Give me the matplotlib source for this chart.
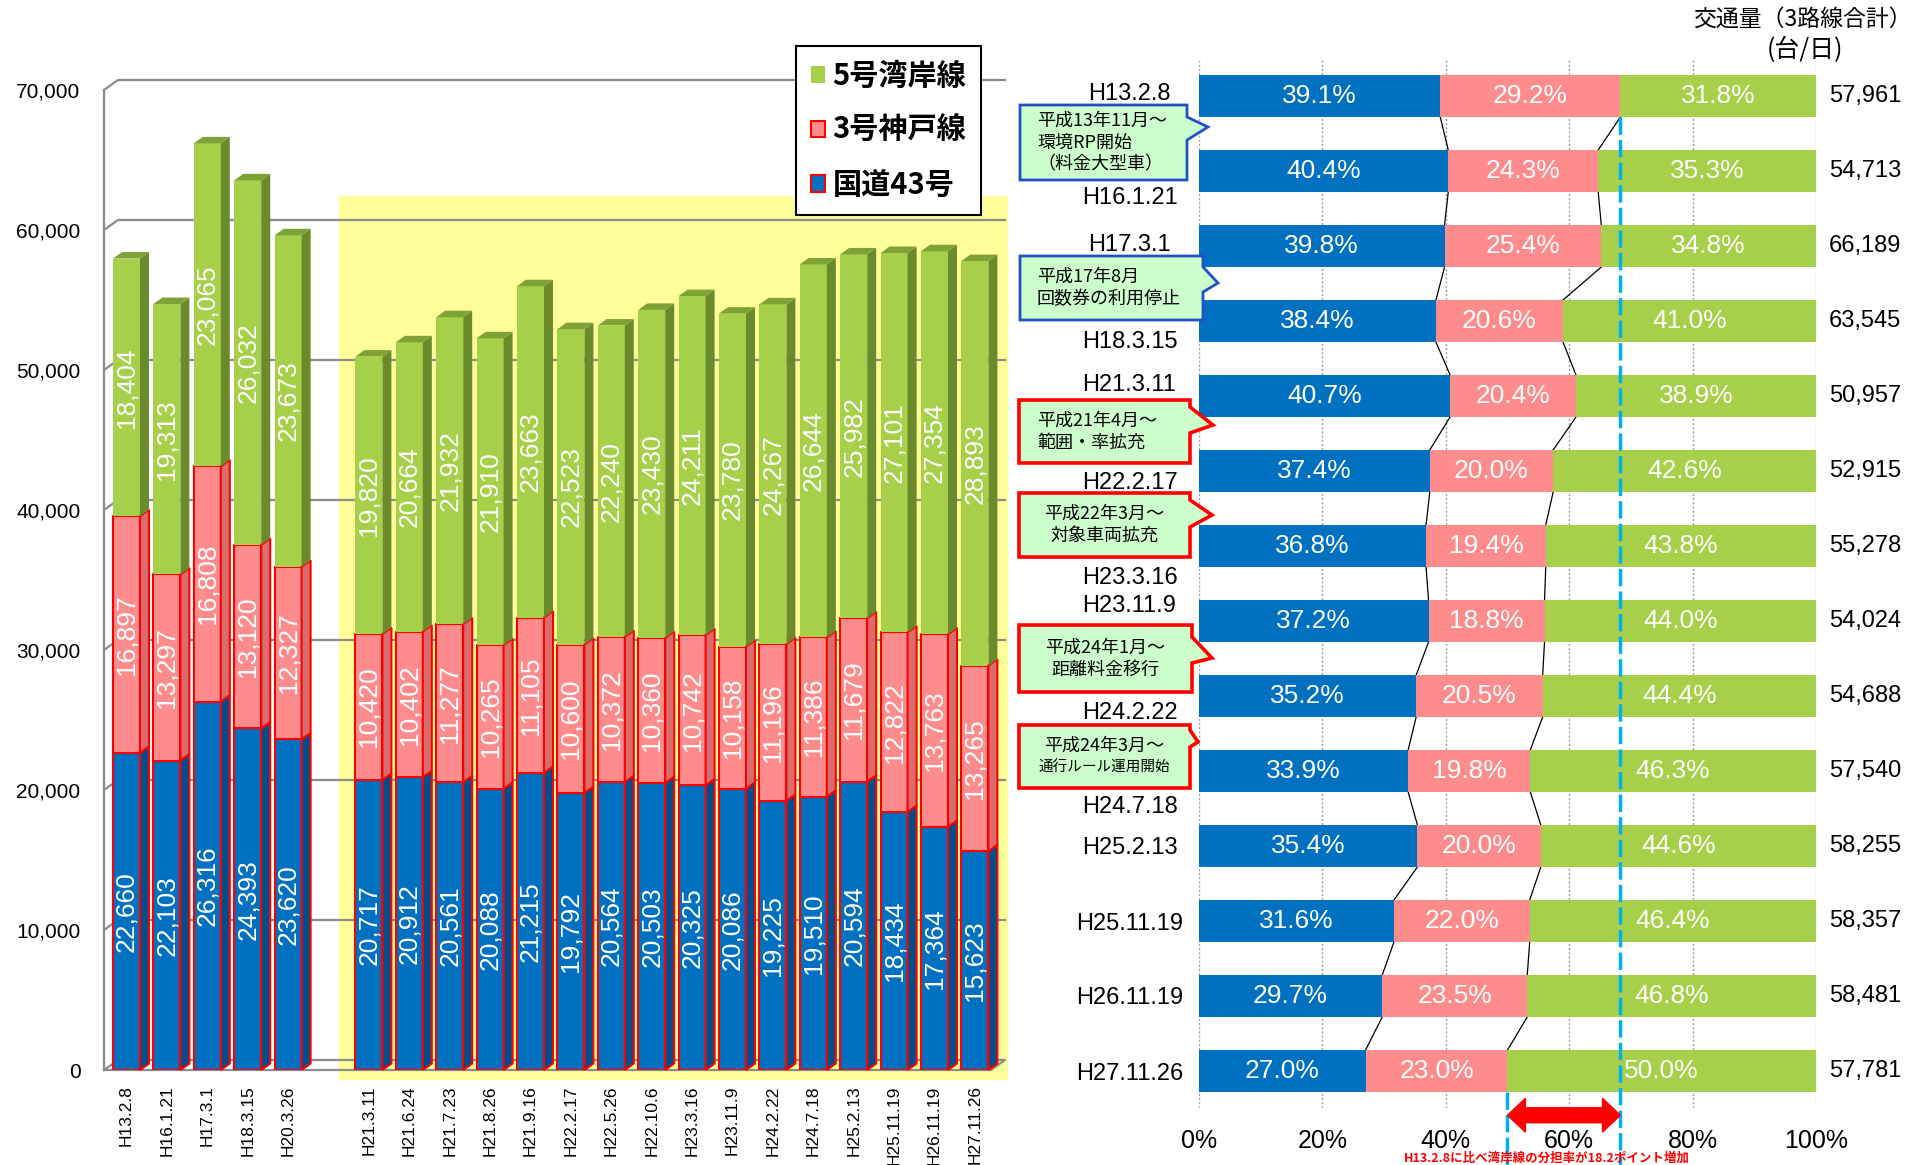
import numpy as np
import matplotlib.pyplot as plt
from matplotlib.patches import Polygon, Rectangle, FancyArrow

plt.rcParams['font.family'] = ['Liberation Sans', 'Noto Sans CJK JP']
JP = ['Noto Sans CJK JP', 'DejaVu Sans']

W, H = 1915, 1165

# ---- left chart: daily traffic by route (台/日)
dates = ['H13.2.8', 'H16.1.21', 'H17.3.1', 'H18.3.15', 'H20.3.26',
         'H21.3.11', 'H21.6.24', 'H21.7.23', 'H21.8.26', 'H21.9.16', 'H22.2.17',
         'H22.5.26', 'H22.10.6', 'H23.3.16', 'H23.11.9', 'H24.2.22', 'H24.7.18',
         'H25.2.13', 'H25.11.19', 'H26.11.19', 'H27.11.26']
route43 = [22660, 22103, 26316, 24393, 23620,
           20717, 20912, 20561, 20088, 21215, 19792, 20564, 20503, 20325, 20086,
           19225, 19510, 20594, 18434, 17364, 15623]
kobe3 = [16897, 13297, 16808, 13120, 12327,
         10420, 10402, 11277, 10265, 11105, 10600, 10372, 10360, 10742, 10158,
         11196, 11386, 11679, 12822, 13763, 13265]
wangan5 = [18404, 19313, 23065, 26032, 23673,
           19820, 20664, 21932, 21910, 23663, 22523, 22240, 23430, 24211, 23780,
           24267, 26644, 25982, 27101, 27354, 28893]
names = ['国道43号', '3号神戸線', '5号湾岸線']
n_first = 5  # bars before the gap

# ---- right chart: share of each route (%)
share_dates = ['H13.2.8', 'H16.1.21', 'H17.3.1', 'H18.3.15', 'H21.3.11', 'H22.2.17',
               'H23.3.16', 'H23.11.9', 'H24.2.22', 'H24.7.18', 'H25.2.13',
               'H25.11.19', 'H26.11.19', 'H27.11.26']
share43 = [39.1, 40.4, 39.8, 38.4, 40.7, 37.4, 36.8, 37.2, 35.2, 33.9, 35.4, 31.6, 29.7, 27.0]
share3 = [29.2, 24.3, 25.4, 20.6, 20.4, 20.0, 19.4, 18.8, 20.5, 19.8, 20.0, 22.0, 23.5, 23.0]
share5 = [31.8, 35.3, 34.8, 41.0, 38.9, 42.6, 43.8, 44.0, 44.4, 46.3, 44.6, 46.4, 46.8, 50.0]
share_total = [57961, 54713, 66189, 63545, 50957, 52915, 55278, 54024, 54688,
               57540, 58255, 58357, 58481, 57781]

notes = ['平成13年11月～\n環境RP開始\n（料金大型車）',
         '平成17年8月\n回数券の利用停止',
         '平成21年4月～\n範囲・率拡充',
         '平成22年3月～\n対象車両拡充',
         '平成24年1月～\n距離料金移行',
         '平成24年3月～\n通行ルール運用開始']

BLUE, BLUE_S = '#0070C0', '#004F8C'
PINK, PINK_S = '#FF8C8C', '#D96C6C'
GREEN, GREEN_S, GREEN_T = '#A6D04A', '#6B8A2B', '#7FA236'
GRID = '#8C8C8C'

fig = plt.figure(figsize=(W / 100, H / 100), dpi=100)


def px_axes(x0, y0, x1, y1):
    return fig.add_axes([x0 / W, 1 - y1 / H, (x1 - x0) / W, (y1 - y0) / H])


# ================= left: pseudo-3D stacked columns =================
ax = px_axes(104, 90, 1005, 1070)
slot, x0px = 40.4, 126.5
xl, xr = (104 - x0px) / slot, (1005 - x0px) / slot
ax.set_xlim(xl, xr)
ax.set_ylim(0, 70000)
upp = 70000 / 980          # data units per pixel
dx3, dy3 = 9 / slot, 6.5 * upp
dxw, dyw = 14 / slot, 10 * upp

xs = np.r_[np.arange(n_first), np.arange(n_first + 1, len(dates) + 1)]
bw = 27 / slot

ax.add_patch(Rectangle((xs[n_first] - 0.75, -9 * upp), xr - xs[n_first] + 0.8,
                       62428 + 9 * upp, color='#FFFF99', zorder=0, clip_on=False))
for v in range(10000, 70001, 10000):
    ax.plot([xl, xl + dxw, xr], [v, v + dyw, v + dyw], color=GRID, lw=1.6,
            zorder=1, clip_on=False)
ax.plot([xl, xr - dxw, xr, xl + dxw, xl], [0, 0, dyw, dyw, 0], color=GRID, lw=1.6,
        zorder=1, clip_on=False)

b1 = ax.bar(xs, route43, bw, color=BLUE, edgecolor='red', lw=1.5, zorder=3)
bot2 = np.array(route43)
b2 = ax.bar(xs, kobe3, bw, bottom=bot2, color=PINK, edgecolor='red', lw=1.5, zorder=3)
bot3 = bot2 + np.array(kobe3)
b3 = ax.bar(xs, wangan5, bw, bottom=bot3, color=GREEN, edgecolor='none', zorder=3)

segs = [(np.zeros(len(xs)), route43, BLUE_S, 'red'),
        (bot2, kobe3, PINK_S, 'red'),
        (bot3, wangan5, GREEN_S, 'none')]
for bottom, vals, side, ec in segs:
    for x, b, v in zip(xs, bottom, vals):
        r = x + bw / 2
        ax.add_patch(Polygon([(r, b), (r + dx3, b + dy3), (r + dx3, b + v + dy3), (r, b + v)],
                             closed=True, fc=side, ec=ec, lw=1.5, zorder=3, clip_on=False))
        ax.text(x, b + v / 2, f'{v:,}', rotation=90, ha='center', va='center',
                color='white', fontsize=19, zorder=5)
for x, t in zip(xs, bot3 + np.array(wangan5)):
    l, r = x - bw / 2, x + bw / 2
    ax.add_patch(Polygon([(l, t), (l + dx3, t + dy3), (r + dx3, t + dy3), (r, t)],
                         closed=True, fc=GREEN_T, ec='none', zorder=3, clip_on=False))

for s in ['top', 'right', 'bottom']:
    ax.spines[s].set_visible(False)
ax.spines['left'].set_color(GRID)
ax.spines['left'].set_linewidth(1.6)
ax.set_yticks(range(0, 70001, 10000), [f'{v:,}' for v in range(0, 70001, 10000)])
ax.tick_params(axis='y', length=0, pad=17, labelsize=15)
ax.set_xticks(xs, dates, rotation=90)
ax.tick_params(axis='x', length=0, pad=11, labelsize=12.5)

leg = ax.legend([b3, b2, b1], names[::-1], loc='upper left',
                bbox_to_anchor=(796 / W, 1 - 46 / H), bbox_transform=fig.transFigure,
                borderaxespad=0, borderpad=0.5, handlelength=0.5, handleheight=0.5,
                handletextpad=0.25, labelspacing=0.85, fancybox=False,
                prop={'family': JP, 'weight': 'bold', 'size': 21})
leg.get_frame().set_edgecolor('black')
leg.get_frame().set_linewidth(1.5)
leg.get_frame().set_alpha(1)

# ================= right: 100% stacked bars =================
ax2 = px_axes(1199, 58, 1816, 1108)
ys = np.arange(len(share_dates))
ax2.set_xlim(0, 100)
ax2.set_ylim(13 + 37 / 75, -38 / 75)
s43, s3, s5 = np.array(share43), np.array(share3), np.array(share5)
bh = 0.56
ax2.barh(ys, s43, bh, color=BLUE, zorder=3)
ax2.barh(ys, s3, bh, left=s43, color=PINK, zorder=3)
ax2.barh(ys, s5, bh, left=s43 + s3, color=GREEN, zorder=3)
for y in ys:
    for left, v in [(0, s43[y]), (s43[y], s3[y]), (s43[y] + s3[y], s5[y])]:
        ax2.text(left + v / 2, y, f'{v:.1f}%', ha='center', va='center',
                 color='white', fontsize=19, zorder=5)
    ax2.text(102.1, y, f'{share_total[y]:,}', ha='left', va='center', fontsize=17)

for c in [s43, s43 + s3]:
    for i in range(len(ys) - 1):
        ax2.plot([c[i], c[i + 1]], [i + bh / 2, i + 1 - bh / 2], color='black',
                 lw=0.9, zorder=2)

label_shift = [-0.06, 0.32, -0.05, 0.25, -0.18, 0.13, 0.4, -0.23, 0.19, 0.45, 0, 0, 0, 0]
ax2.set_yticks(ys + np.array(label_shift), share_dates)
ax2.tick_params(axis='y', length=0, pad=50, labelsize=17)
for lbl in ax2.get_yticklabels():
    lbl.set_horizontalalignment('center')
ax2.set_xticks(range(0, 101, 20), [f'{v}%' for v in range(0, 101, 20)])
ax2.tick_params(axis='x', length=0, pad=15, labelsize=18)
ax2.grid(axis='x', color='#A0A0A0', ls=(0, (1.5, 1.5)), lw=1, zorder=1)
for s in ax2.spines.values():
    s.set_visible(False)

# highlight: change in Route 5 share between first and last survey
lo, hi = s43[-1] + s3[-1], s43[0] + s3[0]
ax2.plot([hi, hi], [bh / 2, 14.3], color='#00B0F0', lw=2.5, dashes=(5, 1.5),
         zorder=4, clip_on=False)
ax2.plot([lo, lo], [13 + bh / 2, 14.3], color='#00B0F0', lw=2.5, dashes=(5, 1.5),
         zorder=4, clip_on=False)
ya, mid = 13.59, (lo + hi) / 2
for end in [lo, hi]:
    ax2.add_patch(FancyArrow(mid, ya, end - mid, 0, width=0.2, head_width=0.45,
                             head_length=2.9, length_includes_head=True,
                             color='red', zorder=4, clip_on=False))

# ================= overlay: callouts and notes (pixel coords) =================
ov = fig.add_axes([0, 0, 1, 1])
ov.set_xlim(0, W)
ov.set_ylim(H, 0)
ov.axis('off')
ov.patch.set_visible(False)

boxes = [  # x0, y0, x1, y1, pointer p0, tip x, tip y, pointer p1
    (1020, 105, 1187, 180, 117, 1208, 127, 140),
    (1020, 256, 1203, 320, 267, 1218, 283, 292),
    (1019, 400, 1190, 463, 407, 1213, 425, 433),
    (1019, 493, 1190, 557, 500, 1212, 515, 527),
    (1019, 625, 1192, 692, 637, 1212, 658, 663),
    (1019, 725, 1190, 788, 730, 1198, 742, 747),
]
edge = ['#2050C8', '#2050C8', 'red', 'red', 'red', 'red']
for i, (x0, y0, x1, y1, p0, tx, ty, p1) in enumerate(boxes):
    ov.add_patch(Polygon([(x0, y0), (x1, y0), (x1, p0), (tx, ty), (x1, p1), (x1, y1), (x0, y1)],
                         closed=True, fc='#CCFFCC', ec=edge[i], lw=2.0 if i < 2 else 2.6,
                         joinstyle='miter', zorder=6))
    lines = notes[i].split('\n')
    n = len(lines)
    yc = (y0 + y1) / 2
    for k, line in enumerate(lines):
        yy = yc + (k - (n - 1) / 2) * 22
        size = 10.5 if (i == 5 and k == 1) else 13
        if i < 3:
            ov.text(1037, yy, line, ha='left', va='center', fontsize=size,
                    family=JP, zorder=7)
        else:
            ov.text((x0 + x1) / 2, yy, line, ha='center', va='center', fontsize=size,
                    family=JP, zorder=7)

ov.text(1693, 19, '交通量（3路線合計）', ha='left', va='center', fontsize=16.5, family=JP)
ov.text(1805, 50, '(台/日)', ha='center', va='center', fontsize=18, family=JP)
ov.text(1404, 1165, 'H13.2.8に比べ湾岸線の分担率が18.2ポイント増加', ha='left',
        va='bottom', fontsize=9, color='red', weight='bold', family=JP)

fig.savefig('out.png', dpi=100)
